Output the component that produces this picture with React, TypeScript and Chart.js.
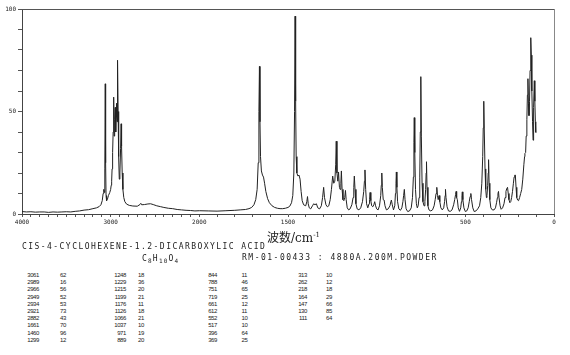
import React, { useEffect, useRef } from "react";
import { Chart, registerables, LinearScale } from "chart.js";

// ---- spectrum trace (wavenumber cm-1, relative intensity %) ----
const WAVENUMBERS: number[] = [
  4000, 3950, 3900, 3850, 3800, 3750, 3700, 3650, 3600, 3550, 3500, 3450, 3400, 3350, 3300, 3250, 3200, 3160, 3130, 3110,
  3095, 3085, 3078, 3070, 3066, 3061, 3057, 3052, 3046, 3038, 3025, 3010, 3000, 2994, 2989, 2984, 2978, 2972, 2966, 2961,
  2955, 2949, 2943, 2938, 2934, 2928, 2924, 2921, 2916, 2910, 2903, 2896, 2888, 2882, 2877, 2870, 2862, 2852, 2840, 2820,
  2790, 2750, 2700, 2670, 2660, 2650, 2620, 2580, 2550, 2520, 2480, 2440, 2400, 2350, 2300, 2250, 2200, 2150, 2100, 2050,
  2000, 1950, 1900, 1850, 1800, 1770, 1740, 1720, 1705, 1692, 1682, 1674, 1668, 1664, 1661, 1658, 1655, 1650, 1644, 1638,
  1632, 1625, 1615, 1605, 1590, 1575, 1560, 1545, 1530, 1515, 1500, 1490, 1480, 1473, 1467, 1463, 1460, 1457, 1454, 1450,
  1444, 1438, 1432, 1426, 1420, 1412, 1400, 1394, 1390, 1386, 1380, 1372, 1362, 1355, 1348, 1340, 1332, 1322, 1312, 1305,
  1299, 1294, 1286, 1278, 1270, 1262, 1255, 1248, 1242, 1236, 1231, 1228, 1224, 1219, 1215, 1210, 1206, 1202, 1199, 1195,
  1190, 1185, 1180, 1176, 1172, 1166, 1158, 1150, 1140, 1133, 1129, 1126, 1122, 1117, 1110, 1100, 1090, 1080, 1073, 1069,
  1066, 1062, 1057, 1050, 1043, 1040, 1037, 1033, 1028, 1022, 1016, 1011, 1006, 1000, 992, 984, 977, 974, 971, 968,
  963, 958, 953, 945, 935, 925, 920, 917, 912, 905, 898, 894, 891, 889, 886, 882, 875, 866, 858, 852,
  848, 844, 840, 834, 825, 815, 805, 798, 793, 790, 788, 785, 781, 776, 771, 766, 761, 757, 754, 751,
  748, 744, 739, 733, 728, 724, 721, 719, 716, 711, 705, 695, 685, 676, 670, 665, 661, 657, 653, 648,
  644, 638, 630, 622, 617, 614, 612, 609, 603, 595, 585, 575, 566, 560, 555, 552, 549, 545, 540, 533,
  526, 522, 519, 517, 514, 508, 500, 492, 484, 478, 473, 469, 465, 458, 450, 440, 430, 420, 413, 407,
  402, 399, 396, 393, 389, 385, 381, 378, 374, 371, 369, 366, 362, 356, 348, 338, 330, 324, 319, 316,
  313, 310, 304, 298, 290, 282, 276, 271, 266, 262, 258, 254, 249, 244, 239, 234, 229, 225, 221, 218,
  214, 210, 205, 200, 194, 188, 182, 176, 170, 166, 164, 160, 157, 153, 150, 147, 144, 141, 138, 135,
  132, 130, 128, 125, 121, 118, 116, 114, 111, 108, 105, 103, 101,
];
const INTENSITY: number[] = [
  1.2, 1.0, 1.1, 0.9, 1.0, 1.0, 0.8, 1.0, 0.9, 1.0, 1.1, 1.0, 1.3, 1.5, 1.9, 2.1, 2.6, 3.0, 3.6, 4.5,
  6.5, 10, 12, 10.5, 22, 63.5, 25, 9, 6.5, 7, 9, 10.5, 12, 14, 16, 22, 30, 40, 57, 38,
  46, 52, 40, 47, 54, 45, 58, 75, 50, 28, 17, 20, 32, 44, 33, 20, 12, 8, 6, 4.8,
  4.2, 3.9, 3.8, 4.6, 5.2, 4.5, 4.6, 4.9, 5.0, 4.6, 4.0, 3.6, 3.2, 2.8, 2.6, 2.2, 2.0, 1.8, 1.7, 1.5,
  1.6, 1.5, 1.4, 1.6, 1.8, 2.0, 2.2, 2.6, 3.2, 4.5, 7, 12, 25, 50, 72, 45, 28, 21, 19, 18,
  15, 11, 7.5, 5.5, 4, 3.2, 2.8, 2.6, 2.6, 2.8, 3.2, 3.8, 5.5, 9, 20, 50, 96.5, 55, 28, 20,
  18.5, 19, 17, 11, 6.5, 4.5, 4.0, 6, 8.5, 5, 3, 2.5, 4, 5, 4.5, 5, 3, 2.5, 4, 8,
  13, 8, 4.5, 3.5, 4, 7, 12, 18.5, 15, 16, 24, 35.5, 20, 16, 20.5, 13, 12, 15, 21, 12,
  7, 6.5, 8, 11.5, 7, 3, 2, 2.5, 4.5, 8, 13, 18.5, 12, 5, 2.5, 2, 3, 6, 11, 16,
  21.5, 12, 5, 3, 5, 7, 10.5, 6.5, 4, 3.5, 4.5, 6, 4, 2.5, 2, 4, 9, 14, 20, 13,
  7, 6.8, 4, 2, 2.5, 4, 6, 6.8, 4.5, 2, 4, 10, 15, 20.5, 13, 6, 2.5, 1.8, 3, 6,
  9, 12, 7, 2.5, 1.2, 1.5, 3, 8, 18, 35, 47, 30, 12, 5, 3, 4, 8, 18, 40, 67,
  38, 15, 6, 4, 6, 12, 20, 25.5, 13, 4, 2, 1.5, 2, 4, 7, 10, 13, 9, 7, 9,
  6, 3, 2, 3, 6, 9, 12, 8, 3.5, 1.5, 1.3, 2, 4.5, 7, 9.5, 11, 8, 7, 3, 1.3,
  3, 6, 9, 10.8, 7, 3, 1.2, 1.5, 3, 6, 8.5, 10, 7, 3, 1.2, 1.5, 2.5, 4, 8, 15,
  28, 42, 55, 40, 22, 12, 8, 9, 14, 20, 26.5, 15, 7, 3, 2, 2, 3, 5.5, 8, 10,
  11, 8, 4, 2.3, 3, 5, 8, 11, 12.5, 13, 10, 7, 5.5, 6, 8, 11, 15, 18, 19, 19,
  13, 8, 6.8, 6.5, 8, 10, 12, 17, 24, 28, 29.5, 30, 38, 46, 58, 66, 54, 48, 55, 70,
  80, 86, 77.5, 60, 45, 36, 40, 52, 65, 55, 45, 40, 39.5,
];

// ---- axis ticks ----
const X_MINOR_STEP = 100;
const X_LABELS: number[] = [4000, 3000, 2000, 1500, 500, 0];
const Y_LABELS: number[] = [0, 50, 100];

// ---- peak table ----
const PEAK_WN_1 = ["3061", "2989", "2966", "2949", "2934", "2921", "2882", "1661", "1460", "1299"];
const PEAK_I_1 = ["62", "16", "56", "52", "53", "73", "43", "70", "96", "12"];
const PEAK_WN_2 = ["1248", "1229", "1215", "1199", "1176", "1126", "1066", "1037", "971", "889"];
const PEAK_I_2 = ["18", "36", "20", "21", "11", "18", "21", "10", "19", "20"];
const PEAK_WN_3 = ["844", "788", "751", "719", "661", "612", "552", "517", "396", "369"];
const PEAK_I_3 = ["11", "46", "65", "25", "12", "11", "10", "10", "64", "25"];
const PEAK_WN_4 = ["313", "262", "218", "164", "147", "130", "111"];
const PEAK_I_4 = ["10", "12", "18", "29", "66", "85", "64"];

const COMPOUND = "CIS-4-CYCLOHEXENE-1.2-DICARBOXYLIC ACID";
const SOURCE = "RM-01-00433 : 4880A.200M.POWDER";

// x scale: 4000-2000 is compressed to half the density of 2000-0
class BrokenScale extends LinearScale {
  static id = "broken";
  static defaults = LinearScale.defaults;
  getPixelForValue(value: number) {
    const u = value <= 2000 ? value : 2000 + (value - 2000) / 2;
    return (this as any).getPixelForDecimal(u / 3000);
  }
  getValueForPixel(pixel: number) {
    const u = (this as any).getDecimalForPixel(pixel) * 3000;
    return u <= 2000 ? u : 2000 + (u - 2000) * 2;
  }
}

Chart.register(...registerables, BrokenScale as any);

const framePlugin = {
  id: "frame",
  afterDatasetsDraw(chart: any) {
    const { ctx, chartArea } = chart;
    ctx.save();
    ctx.lineWidth = 1;
    ctx.strokeStyle = "#555";
    ctx.beginPath();
    ctx.moveTo(chartArea.left, Math.round(chartArea.top) + 0.5);
    ctx.lineTo(chartArea.right, Math.round(chartArea.top) + 0.5);
    ctx.stroke();
    ctx.strokeStyle = "#888";
    ctx.beginPath();
    ctx.moveTo(Math.round(chartArea.right) + 0.5, chartArea.top);
    ctx.lineTo(Math.round(chartArea.right) + 0.5, chartArea.bottom);
    ctx.stroke();
    ctx.restore();
  },
};

const mono = "'DejaVu Sans Mono', 'Liberation Mono', monospace";
const tableFont = "'Liberation Sans', 'DejaVu Sans', sans-serif";

function Column({ items, left, right, align }: { items: string[]; left?: number; right?: number; align: "left" | "right" }) {
  const style: React.CSSProperties = {
    position: "absolute",
    top: 272,
    fontFamily: tableFont,
    fontSize: 6,
    letterSpacing: -0.4,
    lineHeight: "7.2px",
    color: "#222",
    whiteSpace: "pre",
    textAlign: align,
  };
  if (left !== undefined) style.left = left;
  if (right !== undefined) style.right = 570 - right;
  return (
    <div style={style}>
      {items.map((t, i) => (
        <div key={i}>{t}</div>
      ))}
    </div>
  );
}

export default function App() {
  const ref = useRef<HTMLCanvasElement>(null);
  useEffect(() => {
    const points = WAVENUMBERS.map((w, i) => ({ x: w, y: INTENSITY[i] }));
    const chart = new Chart(ref.current as HTMLCanvasElement, {
      type: "line",
      data: {
        datasets: [
          {
            data: points,
            borderColor: "#222",
            borderWidth: 1,
            pointRadius: 0,
            tension: 0,
            fill: false,
          },
        ],
      },
      options: {
        animation: false,
        responsive: false,
        devicePixelRatio: 1,
        layout: { padding: { top: 9, right: 16, left: 0, bottom: 0 } },
        plugins: { legend: { display: false }, tooltip: { enabled: false } },
        scales: {
          x: {
            type: "broken" as any,
            reverse: true,
            min: 0,
            max: 4000,
            afterBuildTicks: (scale: any) => {
              const t = [];
              for (let v = 0; v <= 4000; v += X_MINOR_STEP) t.push({ value: v });
              scale.ticks = t;
            },
            afterFit: (scale: any) => {
              scale.height = 18;
            },
            ticks: {
              autoSkip: false,
              maxRotation: 0,
              padding: 2,
              color: "#222",
              font: { family: mono, size: 6 },
              callback: (v: any) => (X_LABELS.includes(Number(v)) ? String(v) : ""),
            },
            grid: { drawOnChartArea: false, drawTicks: true, tickLength: 3, color: "#555" },
            border: { display: true, color: "#444" },
          },
          y: {
            min: 0,
            max: 100,
            afterBuildTicks: (scale: any) => {
              const t = [];
              for (let v = 0; v <= 100; v += 10) t.push({ value: v });
              scale.ticks = t;
            },
            afterFit: (scale: any) => {
              scale.width = 22;
            },
            ticks: {
              autoSkip: false,
              padding: 2,
              color: "#222",
              font: { family: mono, size: 6 },
              callback: (v: any) => (Y_LABELS.includes(Number(v)) ? String(v) : ""),
            },
            grid: { drawOnChartArea: false, drawTicks: true, tickLength: 4, color: "#555" },
            border: { display: true, color: "#444" },
          },
        },
      },
      plugins: [framePlugin],
    });
    return () => chart.destroy();
  }, []);

  return (
    <div style={{ position: "absolute", left: 0, top: 0, width: 570, height: 355, background: "#fff", overflow: "hidden" }}>
      <canvas ref={ref} width={570} height={232} style={{ display: "block", width: 570, height: 232 }} />
      <div
        style={{
          position: "absolute",
          left: 267,
          top: 229,
          fontFamily: "'DejaVu Serif', 'Noto Sans CJK SC', serif",
          fontSize: 12,
          lineHeight: "16px",
          color: "#222",
          whiteSpace: "nowrap",
        }}
      >
        <span style={{ fontFamily: "'Noto Sans CJK SC', sans-serif" }}>波数</span>/cm<sup style={{ fontSize: 7, verticalAlign: "5px", lineHeight: 0 }}>-1</sup>
      </div>
      <div
        style={{
          position: "absolute",
          left: 22,
          top: 242,
          fontFamily: mono,
          fontSize: 8,
          letterSpacing: 1.45,
          lineHeight: "10px",
          color: "#222",
          whiteSpace: "pre",
        }}
      >
        {COMPOUND}
      </div>
      <div
        style={{
          position: "absolute",
          left: 142,
          top: 254,
          fontFamily: mono,
          fontSize: 8,
          letterSpacing: 1.2,
          lineHeight: "10px",
          color: "#222",
          whiteSpace: "pre",
        }}
      >
        C<sub style={{ fontSize: 6, verticalAlign: "-2px", lineHeight: 0 }}>8</sub>H
        <sub style={{ fontSize: 6, verticalAlign: "-2px", lineHeight: 0 }}>10</sub>O
        <sub style={{ fontSize: 6, verticalAlign: "-2px", lineHeight: 0 }}>4</sub>
      </div>
      <div
        style={{
          position: "absolute",
          left: 242,
          top: 253,
          fontFamily: mono,
          fontSize: 8,
          letterSpacing: 1.5,
          lineHeight: "10px",
          color: "#222",
          whiteSpace: "pre",
        }}
      >
        {SOURCE}
      </div>
      <Column items={PEAK_WN_1} right={39} align="right" />
      <Column items={PEAK_I_1} left={60} align="left" />
      <Column items={PEAK_WN_2} right={126} align="right" />
      <Column items={PEAK_I_2} left={138} align="left" />
      <Column items={PEAK_WN_3} right={217} align="right" />
      <Column items={PEAK_I_3} left={241.5} align="left" />
      <Column items={PEAK_WN_4} right={307} align="right" />
      <Column items={PEAK_I_4} left={326} align="left" />
    </div>
  );
}
